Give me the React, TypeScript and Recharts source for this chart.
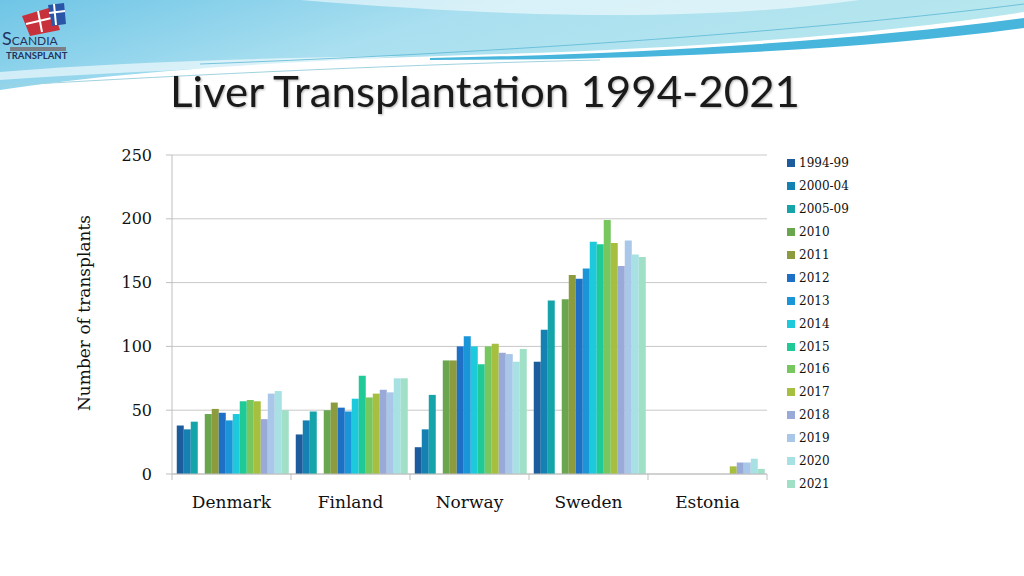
import React from 'react';
import { Bar, BarChart, CartesianGrid, XAxis, YAxis } from 'recharts';

// Liver transplants per country, one list per period.
const categories = ['Denmark', 'Finland', 'Norway', 'Sweden', 'Estonia'];

const seriesNames = [
  '1994-99', '2000-04', '2005-09', '2010', '2011', '2012', '2013', '2014',
  '2015', '2016', '2017', '2018', '2019', '2020', '2021',
];

const seriesColors = [
  '#1d5c9c', '#1581b2', '#14a4aa', '#6aa64e', '#8c9b3e', '#1e6fc6', '#1995d8',
  '#1ccadc', '#1fca97', '#78c75e', '#a7bf3f', '#9aaad8', '#a9c7e8', '#a8e1e3',
  '#a0e0c6',
];

const v1994 = [38, 31, 21, 88, 0];
const v2000 = [35, 42, 35, 113, 0];
const v2005 = [41, 49, 62, 136, 0];
const v2010 = [47, 50, 89, 137, 0];
const v2011 = [51, 56, 89, 156, 0];
const v2012 = [48, 52, 100, 153, 0];
const v2013 = [42, 49, 108, 161, 0];
const v2014 = [47, 59, 100, 182, 0];
const v2015 = [57, 77, 86, 180, 0];
const v2016 = [58, 60, 100, 199, 0];
const v2017 = [57, 63, 102, 181, 6];
const v2018 = [43, 66, 95, 163, 9];
const v2019 = [63, 64, 94, 183, 9];
const v2020 = [65, 75, 88, 172, 12];
const v2021 = [50, 75, 98, 170, 4];

const seriesValues = [
  v1994, v2000, v2005, v2010, v2011, v2012, v2013, v2014,
  v2015, v2016, v2017, v2018, v2019, v2020, v2021,
];

const yTicks = [0, 50, 100, 150, 200, 250];

// the slide leaves an empty slot between 2005-09 and 2010
const BLANK = 'blank';

const data = categories.map((name, i) => {
  const row: Record<string, string | number | null> = { name, [BLANK]: null };
  seriesNames.forEach((s, k) => {
    row[s] = seriesValues[k][i];
  });
  return row;
});

const SERIF = '"DejaVu Serif", "Liberation Serif", serif';
const AXIS = '#bfbfbf';

function CategoryTick(props: any) {
  const { x, y, payload, index, width } = props;
  const bw = (width ?? 595) / categories.length;
  return (
    <g>
      <line x1={x - bw / 2} x2={x - bw / 2} y1={y} y2={y + 6} stroke={AXIS} />
      {index === categories.length - 1 && (
        <line x1={x + bw / 2} x2={x + bw / 2} y1={y} y2={y + 6} stroke={AXIS} />
      )}
      <text x={x} y={y + 34} textAnchor="middle" fill="#111" fontSize={17} fontFamily={SERIF}>
        {payload.value}
      </text>
    </g>
  );
}

function Header() {
  return (
    <svg width={1024} height={110} style={{ position: 'absolute', left: 0, top: 0 }}>
      <defs>
        <linearGradient id="sky" x1="0" y1="0" x2="1" y2="0.3">
          <stop offset="0%" stopColor="#6fc5e6" />
          <stop offset="45%" stopColor="#a9dff0" />
          <stop offset="100%" stopColor="#b9e8ee" />
        </linearGradient>
      </defs>
      <path d="M0,0 H1024 V12 C880,34 700,48 500,54 C300,60 130,70 0,90 Z" fill="url(#sky)" />
      <path d="M300,0 C520,18 700,22 860,0 Z" fill="#ffffff" opacity={0.55} />
      <path d="M0,72 C120,62 260,58 400,56 C300,66 150,70 0,80 Z" fill="#ffffff" opacity={0.6} />
      <path d="M430,58 C650,54 860,40 1024,18 L1024,28 C860,50 650,60 430,60 Z" fill="#47b5dc" />
      <path d="M200,64 C520,52 820,30 1024,4" stroke="#5ab8d6" strokeWidth={0.8} fill="none" />
      <path d="M0,86 C200,74 420,64 600,60" stroke="#9fd3e0" strokeWidth={1} fill="none" />
      {/* logo */}
      <g transform="translate(6,2)">
        <path d="M16,14 L46,5 L54,28 L24,34 Z" fill="#c8313b" />
        <path d="M32,9 L36,30" stroke="#fff" strokeWidth={2} />
        <path d="M20,22 L50,15" stroke="#fff" strokeWidth={2} />
        <path d="M42,3 L58,1 L60,22 L46,24 Z" fill="#2a56a8" />
        <path d="M48,2 L50,23 M43,11 L59,9" stroke="#fff" strokeWidth={2} />
        <text x={-4} y={43} fill="#23335e" fontSize={18} fontFamily="Lato, sans-serif">
          S<tspan fontSize={12}>CANDIA</tspan>
        </text>
        <rect x={4} y={45} width={56} height={4} fill="#7b7f86" />
        <text x={0} y={57} fill="#23335e" fontSize={9.5} fontWeight={700} fontFamily="Lato, sans-serif">
          TRANSPLANT
        </text>
      </g>
    </svg>
  );
}

export default function App() {
  return (
    <div
      style={{
        position: 'fixed',
        left: 0,
        top: 0,
        width: 1024,
        height: 576,
        background: '#fff',
        overflow: 'hidden',
      }}
    >
      <Header />
      <svg width={700} height={60} style={{ position: 'absolute', left: 168, top: 62 }}>
        <text
          x={2}
          y={45}
          fontSize={42}
          fill="#1a1a1a"
          fontFamily='Lato, "Open Sans", sans-serif'
          textLength={630}
          lengthAdjust="spacingAndGlyphs"
          style={{ filter: 'drop-shadow(1px 1px 1px rgba(0,0,0,0.3))' }}
        >
          Liver Transplantation 1994-2021
        </text>
      </svg>

      <div
        style={{
          position: 'absolute',
          left: 84,
          top: 313,
          transform: 'translate(-50%, -50%) rotate(-90deg)',
          whiteSpace: 'nowrap',
          fontFamily: SERIF,
          fontSize: 17,
          color: '#111',
        }}
      >
        Number of transplants
      </div>

      <div style={{ position: 'absolute', left: 60, top: 140 }}>
        <BarChart
          width={720}
          height={390}
          data={data}
          margin={{ top: 15, right: 13, bottom: 16, left: 60 }}
          barCategoryGap="4%"
          barGap={0}
        >
          <CartesianGrid vertical={false} stroke="#c8c8c8" />
          <XAxis
            dataKey="name"
            height={40}
            axisLine={{ stroke: AXIS }}
            tickLine={false}
            tickSize={0}
            tickMargin={0}
            interval={0}
            tick={<CategoryTick />}
          />
          <YAxis
            width={52}
            domain={[0, 250]}
            ticks={yTicks}
            interval={0}
            axisLine={{ stroke: AXIS }}
            tickLine={{ stroke: AXIS }}
            tickSize={6}
            tickMargin={14}
            tick={{ fill: '#111', fontSize: 16, fontFamily: SERIF }}
          />
          {seriesNames.slice(0, 3).map((s, k) => (
            <Bar key={s} dataKey={s} fill={seriesColors[k]} isAnimationActive={false} />
          ))}
          <Bar dataKey={BLANK} fill="none" legendType="none" isAnimationActive={false} />
          {seriesNames.slice(3).map((s, k) => (
            <Bar key={s} dataKey={s} fill={seriesColors[k + 3]} isAnimationActive={false} />
          ))}
        </BarChart>
      </div>

      <div style={{ position: 'absolute', left: 787, top: 152, fontFamily: SERIF, fontSize: 12, color: '#111' }}>
        {seriesNames.map((s, k) => (
          <div key={s} style={{ display: 'flex', alignItems: 'center', height: 22.9 }}>
            <span style={{ width: 8, height: 8, background: seriesColors[k], marginRight: 4 }} />
            {s}
          </div>
        ))}
      </div>
    </div>
  );
}
